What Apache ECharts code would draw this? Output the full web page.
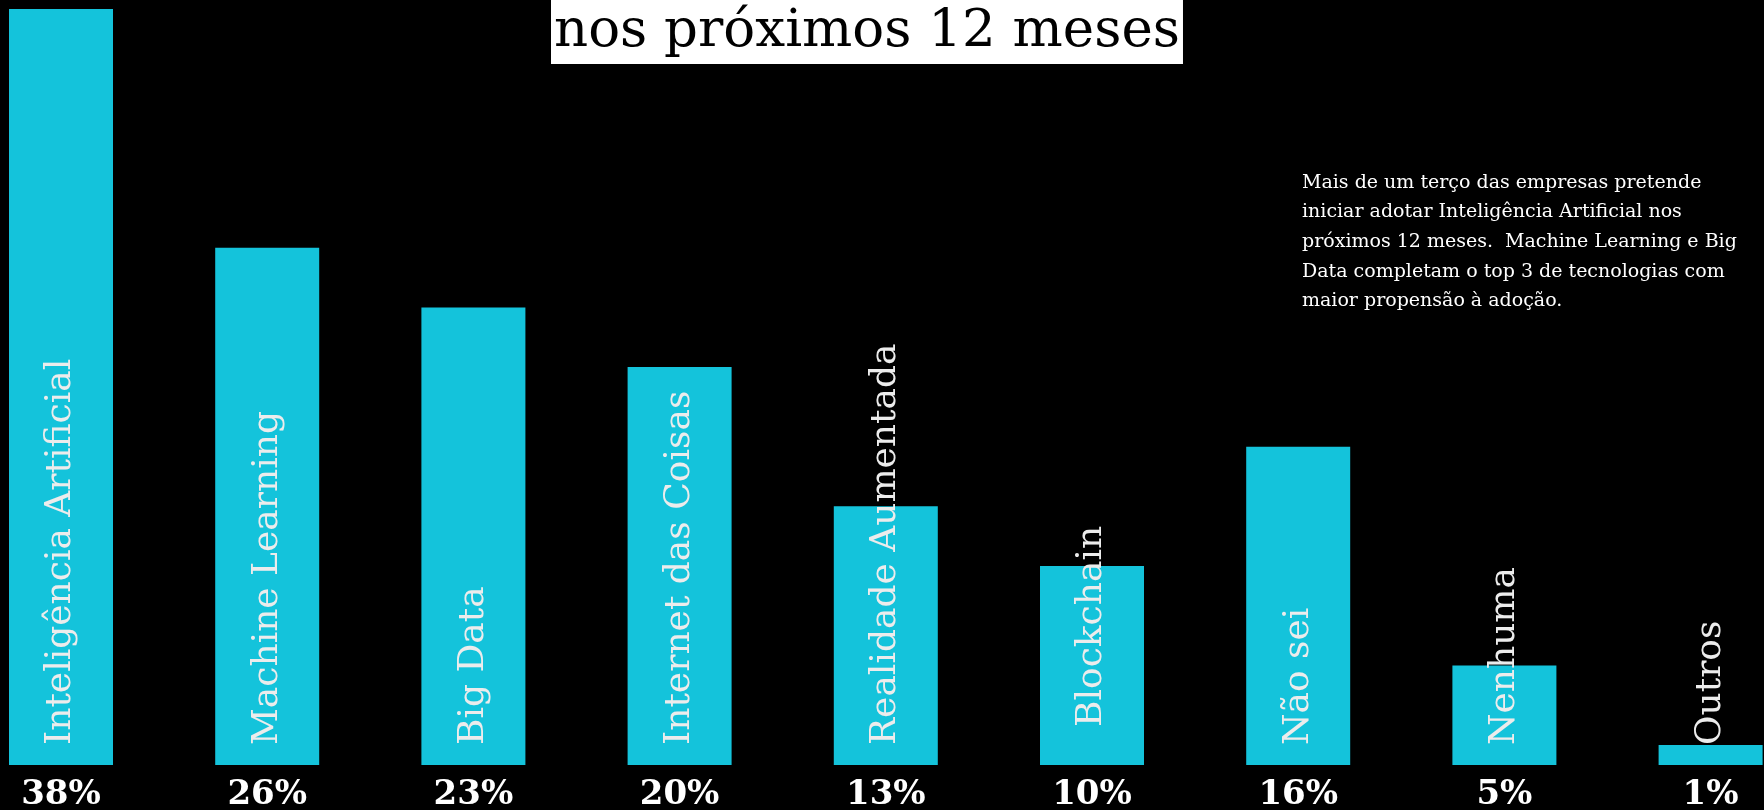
<!DOCTYPE html>
<html>
<head>
<meta charset="utf-8">
<script src="https://cdn.jsdelivr.net/npm/echarts@6/dist/echarts.min.js"></script>
<style>
html,body{margin:0;padding:0;background:#000;}
#chart{width:1764px;height:810px;}
</style>
</head>
<body>
<div id="chart"></div>
<script>
const categories = ['Inteligência Artificial','Machine Learning','Big Data','Internet das Coisas','Realidade Aumentada','Blockchain','Não sei','Nenhuma','Outros'];
const percentValues = [38, 26, 23, 20, 13, 10, 16, 5, 1];
const titleText = 'nos próximos 12 meses';
const noteLines = [
  'Mais de um terço das empresas pretende',
  'iniciar adotar Inteligência Artificial nos',
  'próximos 12 meses.  Machine Learning e Big',
  'Data completam o top 3 de tecnologias com',
  'maior propensão à adoção.'
];

const chart = echarts.init(document.getElementById('chart'));
const barData = percentValues.map((v, i) => {
  const item = { value: v };
  if (categories[i] === 'Blockchain') item.label = { distance: 38 };
  return item;
});

chart.setOption({
  backgroundColor: '#000',
  animation: false,
  title: {
    text: titleText,
    left: 551,
    top: 0,
    padding: [3, 3, 3, 3],
    backgroundColor: '#fff',
    textStyle: { fontFamily: 'DejaVu Serif', fontSize: 53, fontWeight: 'normal', color: '#000', lineHeight: 58 }
  },
  grid: { left: -42.1, right: -49.7, top: 9, bottom: 45, outerBoundsMode: 'none', containLabel: false },
  xAxis: {
    type: 'category',
    data: categories,
    axisLine: { show: false },
    axisTick: { show: false },
    axisLabel: {
      interval: 0,
      margin: 13,
      color: '#fff',
      fontFamily: 'DejaVu Serif',
      fontWeight: 'bold',
      fontSize: 34,
      formatter: (val, idx) => percentValues[idx] + '%'
    }
  },
  yAxis: { type: 'value', min: 0, max: 38, show: false, splitLine: { show: false } },
  series: [{
    type: 'bar',
    data: barData,
    barWidth: 104,
    itemStyle: { color: '#14C3DB' },
    label: {
      show: true,
      formatter: '{b}',
      position: 'insideBottom',
      distance: 20,
      rotate: 90,
      align: 'left',
      verticalAlign: 'middle',
      color: '#ECECEC',
      fontFamily: 'DejaVu Serif',
      fontSize: 36
    }
  }],
  graphic: [{
    type: 'text',
    left: 1302,
    top: 168,
    style: {
      text: noteLines.join('\n'),
      fill: '#fff',
      font: '19px "DejaVu Serif"',
      lineHeight: 29.6
    }
  }]
});
</script>
</body>
</html>
